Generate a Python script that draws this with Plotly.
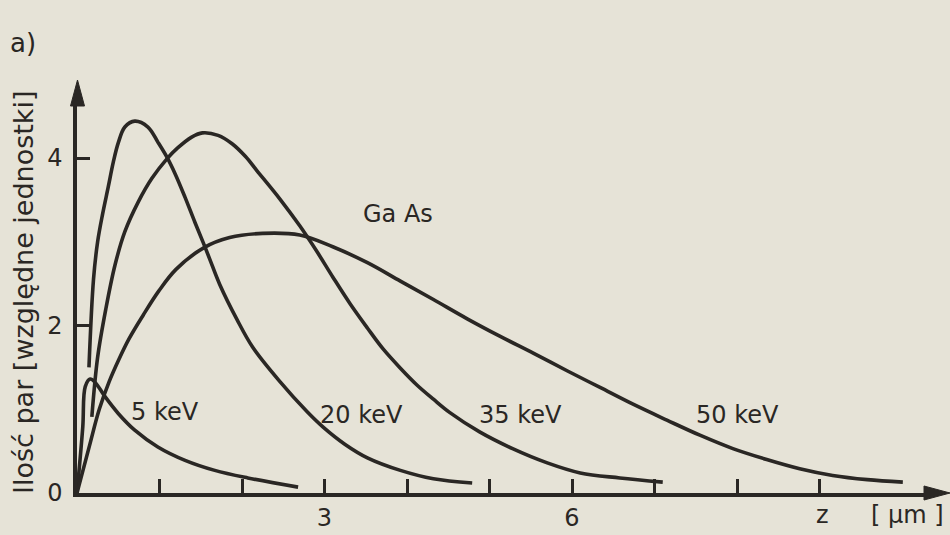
import plotly.graph_objects as go

# ---- data (z in µm, relative units) ----
z_5kev = [0.0, 0.07, 0.10, 0.16, 0.22, 0.34, 0.50, 0.70, 0.98, 1.31, 1.67, 2.07, 2.68]
n_5kev = [0.0, 0.79, 1.27, 1.36, 1.32, 1.15, 0.95, 0.75, 0.55, 0.39, 0.27, 0.18, 0.07]

z_20kev = [0.145, 0.20, 0.25, 0.31, 0.38, 0.44, 0.50, 0.58, 0.70, 0.86, 0.98, 1.09,
           1.19, 1.31, 1.43, 1.53, 1.61, 1.73, 1.94, 2.13, 2.46, 2.79, 2.98, 3.25, 3.52,
           3.92, 4.32, 4.79]
n_20kev = [1.50, 2.55, 3.00, 3.33, 3.66, 3.95, 4.18, 4.37, 4.44, 4.37, 4.19, 4.01,
           3.81, 3.53, 3.23, 2.99, 2.79, 2.49, 2.07, 1.74, 1.33, 0.97, 0.79, 0.58, 0.42,
           0.27, 0.17, 0.12]

z_35kev = [0.18, 0.25, 0.35, 0.46, 0.58, 0.74, 0.91, 1.09, 1.22, 1.39, 1.52, 1.71, 1.88,
           2.04, 2.18, 2.46, 2.70, 2.91, 3.10, 3.31, 3.52, 3.71, 3.92, 4.12, 4.32, 4.52,
           4.88, 5.28, 5.70, 6.10, 6.58, 7.10]
n_35kev = [0.91, 1.62, 2.20, 2.72, 3.12, 3.47, 3.76, 3.99, 4.12, 4.25, 4.30, 4.27, 4.17,
           4.02, 3.85, 3.51, 3.19, 2.88, 2.58, 2.26, 1.97, 1.72, 1.49, 1.29, 1.12, 0.96,
           0.73, 0.53, 0.36, 0.24, 0.18, 0.13]

z_50kev = [0.0, 0.15, 0.27, 0.39, 0.51, 0.63, 0.80, 0.99, 1.20, 1.54, 1.85, 2.25, 2.70,
           3.10, 3.52, 3.92, 4.32, 4.73, 5.13, 5.53, 5.94, 6.34, 6.74, 7.15, 7.55, 7.95,
           8.36, 8.76, 9.16, 9.58, 10.01]
n_50kev = [0.0, 0.56, 1.00, 1.33, 1.60, 1.84, 2.12, 2.41, 2.67, 2.93, 3.05, 3.10, 3.08,
           2.94, 2.75, 2.53, 2.31, 2.08, 1.87, 1.67, 1.46, 1.26, 1.06, 0.87, 0.69, 0.53,
           0.40, 0.29, 0.21, 0.16, 0.13]

x_tickvals = [1, 2, 3, 4, 5, 6, 7, 8, 9]
x_ticktext = ["", "", "3", "", "", "6", "", "", ""]
y_tickvals = [0, 2, 4]
y_ticktext = ["0", "2", "4"]

curve_labels = ["5 keV", "20 keV", "35 keV", "50 keV"]
label_z = [1.07, 3.45, 5.37, 8.00]
label_n = [0.97, 0.93, 0.93, 0.93]

material = "Ga As"
y_title = "Ilość par [względne jednostki]"
x_name = "z"
x_unit = "[ µm ]"
panel = "a)"

# ---- style ----
INK = "#2a2724"
PAPER = "#e6e3d7"
FONT = "DejaVu Sans"
W, H = 950, 535
L, R, T, B = 77, 22, 100, 42
PW, PH = W - L - R, H - T - B


def px2paper(px, py):
    return (px - L) / PW, (H - B - py) / PH


fig = go.Figure()
for zs, ns in [(z_5kev, n_5kev), (z_20kev, n_20kev), (z_35kev, n_35kev), (z_50kev, n_50kev)]:
    fig.add_trace(go.Scatter(x=zs, y=ns, mode="lines",
                             line=dict(color=INK, width=3.6, shape="spline", smoothing=1.0),
                             hoverinfo="skip", showlegend=False, cliponaxis=False))

for txt, zx, ny in zip(curve_labels, label_z, label_n):
    fig.add_annotation(x=zx, y=ny, text=txt, showarrow=False,
                       font=dict(family=FONT, size=24, color=INK))
fig.add_annotation(x=3.89, y=3.33, text=material, showarrow=False,
                   font=dict(family=FONT, size=24, color=INK))


def paper_text(txt, px, py, size, angle=0):
    xx, yy = px2paper(px, py)
    fig.add_annotation(xref="paper", yref="paper", x=xx, y=yy, text=txt, textangle=angle,
                       xanchor="center", yanchor="middle", showarrow=False,
                       font=dict(family=FONT, size=size, color=INK))


paper_text(x_name, 822, 515, 24)
paper_text(x_unit, 907, 515, 24)
paper_text(y_title, 23, 292, 27, angle=-90)
paper_text(panel, 23, 43, 26)


# arrow heads
def tri(p1, p2, p3):
    a = px2paper(*p1); b = px2paper(*p2); c = px2paper(*p3)
    return f"M {a[0]} {a[1]} L {b[0]} {b[1]} L {c[0]} {c[1]} Z"


fig.add_shape(type="path", xref="paper", yref="paper",
              path=tri((77.5, 80), (70.5, 106), (84.5, 106)),
              fillcolor=INK, line=dict(color=INK, width=1))
fig.add_shape(type="path", xref="paper", yref="paper",
              path=tri((950, 493), (924, 486), (924, 500)),
              fillcolor=INK, line=dict(color=INK, width=1))

x_max = PW / 82.5
y_max = PH / 83.75

fig.update_layout(
    width=W, height=H,
    margin=dict(l=L, r=R, t=T, b=B),
    paper_bgcolor=PAPER, plot_bgcolor=PAPER,
    font=dict(family=FONT, size=24, color=INK),
    xaxis=dict(range=[0, x_max], showgrid=False, zeroline=False, automargin=False,
               showline=True, linecolor=INK, linewidth=3.5,
               tickvals=x_tickvals, ticktext=x_ticktext,
               ticks="inside", ticklen=14, tickwidth=2.5, tickcolor=INK,
               ticklabelstandoff=0,
               tickfont=dict(family=FONT, size=24, color=INK)),
    yaxis=dict(range=[0, y_max], showgrid=False, zeroline=False, automargin=False,
               showline=True, linecolor=INK, linewidth=3.5,
               tickvals=y_tickvals, ticktext=y_ticktext,
               ticks="inside", ticklen=13, tickwidth=2.5, tickcolor=INK,
               ticklabelstandoff=6,
               tickfont=dict(family=FONT, size=24, color=INK)),
)

fig.write_html("out.html", config={"displayModeBar": False})

# remove the default page margin so the figure fills the window exactly
with open("out.html", "r", encoding="utf-8") as f:
    html = f.read()
html = html.replace("<head>", "<head><style>html,body{margin:0;padding:0;overflow:hidden;}</style>", 1)
with open("out.html", "w", encoding="utf-8") as f:
    f.write(html)
